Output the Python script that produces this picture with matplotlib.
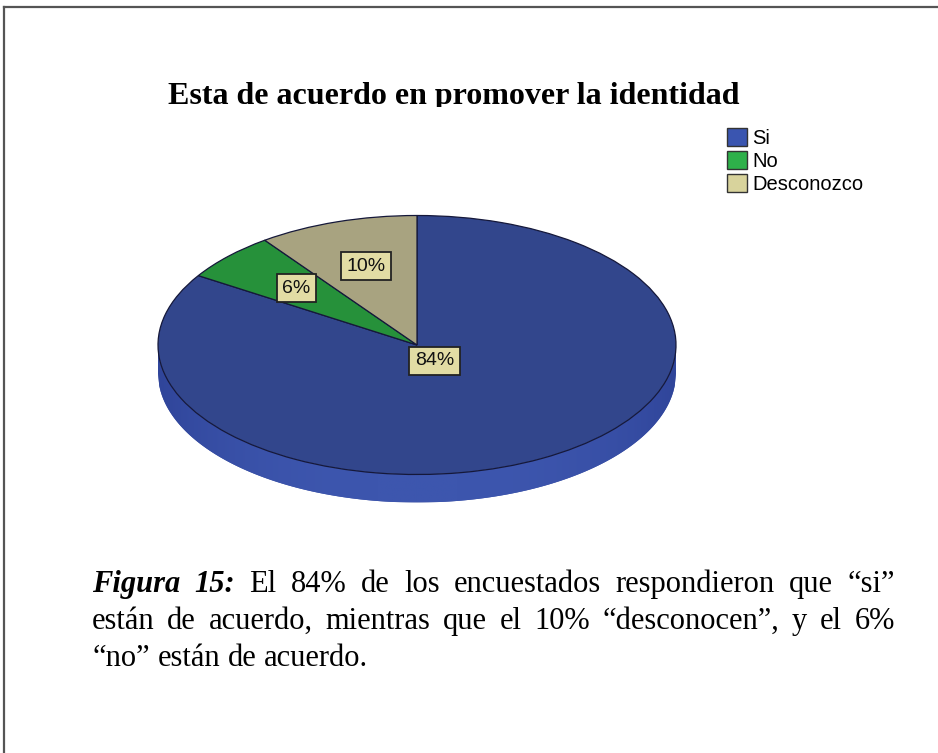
"""
Pie chart: Esta de acuerdo en promover la identidad (SPSS style, 3D look)
"""

import numpy as np
import matplotlib
matplotlib.use("Agg")
import matplotlib.pyplot as plt
from matplotlib.patches import Patch, Rectangle, Polygon

# data
categories = ["Si", "No", "Desconozco"]
percent = [84, 6, 10]
label_r = [0.14, 0.64, 0.64]   # radial position of the % boxes

title = "Esta de acuerdo en promover la identidad"
caption_lines = [
    ["Figura", "15:", "El", "84%", "de", "los", "encuestados",
     "respondieron", "que", "\u201csi\u201d"],
    ["est\u00e1n", "de", "acuerdo,", "mientras", "que", "el", "10%",
     "\u201cdesconocen\u201d,", "y", "el", "6%"],
    ["\u201cno\u201d", "est\u00e1n", "de", "acuerdo."],
]
n_bold = 2   # "Figura 15:" in bold italic

face_colors = ["#32468c", "#26913a", "#a8a380"]
legend_colors = ["#3a55b0", "#2eb04a", "#d8d39c"]
box_color = "#e2dca4"

W, H = 938, 753
fig = plt.figure(figsize=(W / 100, H / 100), dpi=100)

# frame around the figure block (top and left only visible)
fig.add_artist(plt.Line2D([4 / W, 1], [1 - 7 / H, 1 - 7 / H], color="#555555", lw=1.6))
fig.add_artist(plt.Line2D([4 / W, 4 / W], [0, 1 - 7 / H], color="#555555", lw=1.6))

# pie axes: radius 1 -> 259 px horizontally, 129.5 px vertically
cx, cy = 417, 345
a, b = 259, 129.5
xl, yl = (-1.25, 1.25), (-1.6, 1.25)
ax = fig.add_axes([(cx + xl[0] * a) / W, (H - cy + yl[0] * b) / H,
                   (xl[1] - xl[0]) * a / W, (yl[1] - yl[0]) * b / H])

wedges, _ = ax.pie(percent, colors=face_colors, startangle=90, counterclock=False,
                   wedgeprops=dict(edgecolor="#15183a", linewidth=0.9))
ax.set_aspect("auto")

# side of the disc
depth = 28 / b
xs = np.linspace(-1, 1, 400)
top_edge = -np.sqrt(1 - xs ** 2)
side_pts = np.vstack([np.column_stack([xs, top_edge]),
                      np.column_stack([xs[::-1], top_edge[::-1] - depth])])
side = Polygon(side_pts, closed=True, fc="#3a50a4", ec="none", zorder=0.5)
ax.add_patch(side)
grad = np.linspace(-1, 1, 256)
grad = 1 - np.abs(grad) ** 3
side_cmap = matplotlib.colors.LinearSegmentedColormap.from_list("side", ["#30459a", "#3d56ae"])
im = ax.imshow(grad[None, :], cmap=side_cmap, extent=(-1, 1, -1 - depth, 0),
               aspect="auto", zorder=0.6)
im.set_clip_path(side)
ax.set_aspect("auto")
ax.set_xlim(*xl)
ax.set_ylim(*yl)
ax.axis("off")

# percentage boxes
for w, p, r in zip(wedges, percent, label_r):
    ang = np.deg2rad((w.theta1 + w.theta2) / 2)
    ax.text(r * np.cos(ang), r * np.sin(ang), f"{p}%", ha="center", va="center",
            fontsize=14, family="Liberation Sans", color="#111111", zorder=5,
            bbox=dict(boxstyle="square,pad=0.28", fc=box_color, ec="#222222", lw=1.3))

# legend
handles = [Patch(facecolor=c, edgecolor="#333333", lw=1.0) for c in legend_colors]
fig.legend(handles, categories, loc="upper left", bbox_to_anchor=(727 / W, 1 - 128 / H),
           frameon=False, prop=dict(family="Liberation Sans", size=14.5),
           handlelength=1.0, handleheight=1.0, handletextpad=0.25,
           labelspacing=0.15, borderpad=0, borderaxespad=0)

# title, clipped at the bottom like in the source
t = fig.text(454 / W, 1 - 104 / H, title, ha="center", va="baseline",
             fontsize=23, fontweight="bold", family="Liberation Serif")
t.set_clip_path(Rectangle((0, 1 - 107 / H), 1, 107 / H, transform=fig.transFigure))

# justified caption
renderer = fig.canvas.get_renderer()
left, right = 92, 895
baselines = [592, 629, 666]
cap_size = 22
for li, (words, base) in enumerate(zip(caption_lines, baselines)):
    arts = []
    for wi, word in enumerate(words):
        bold = li == 0 and wi < n_bold
        arts.append(fig.text(0, 1 - base / H, word, ha="left", va="baseline",
                             fontsize=cap_size, family="Liberation Serif",
                             fontweight="bold" if bold else "normal",
                             fontstyle="italic" if bold else "normal"))
    widths = [x.get_window_extent(renderer).width for x in arts]
    if li < len(caption_lines) - 1:
        gap = (right - left - sum(widths)) / (len(words) - 1)
    else:
        gap = 0.25 * cap_size * 100 / 72
    x = left
    for art, wd in zip(arts, widths):
        art.set_x(x / W)
        x += wd + gap

fig.savefig("out.png", dpi=100)
